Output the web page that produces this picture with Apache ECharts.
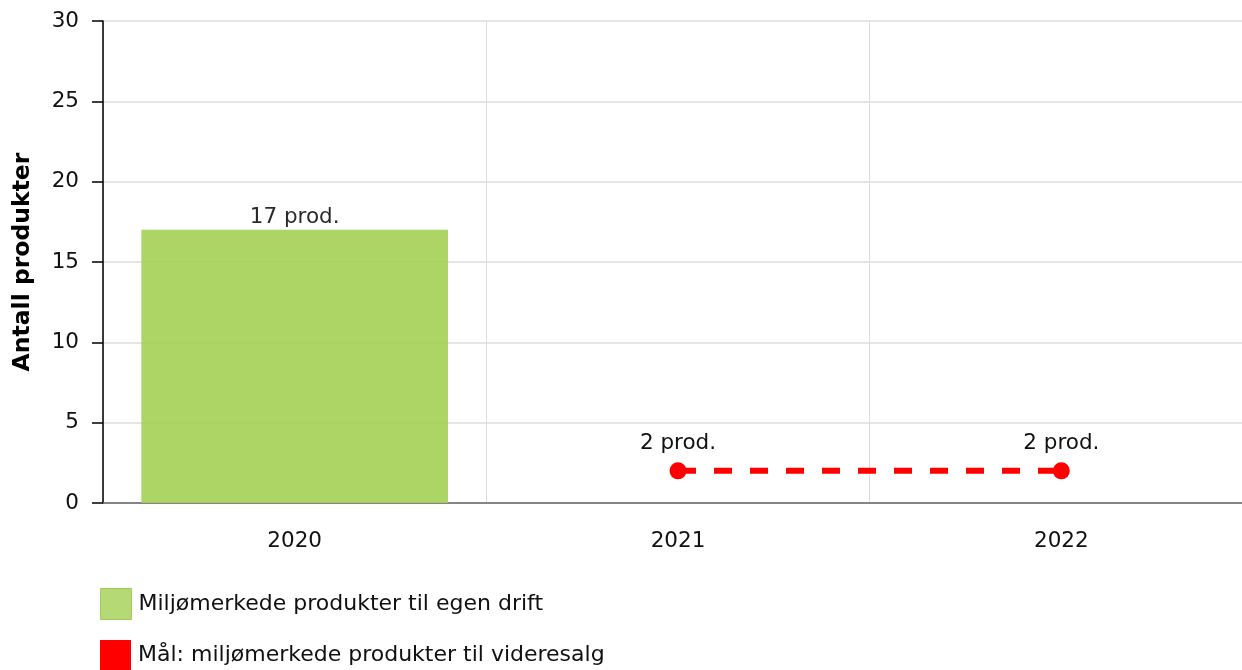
<!DOCTYPE html>
<html><head><meta charset="utf-8">
<script src="https://cdn.jsdelivr.net/npm/echarts@6/dist/echarts.min.js"></script>
<style>html,body{margin:0;padding:0;background:#fff}#c{width:1242px;height:670px}</style>
</head><body><div id="c"></div>
<script>
const categories = ['2020', '2021', '2022'];
const egenDrift = [17, null, null];
const videresalg = [null, 2, 2];
const yTicks = [0, 5, 10, 15, 20, 25, 30];
const seriesNames = ['Miljømerkede produkter til egen drift', 'Mål: miljømerkede produkter til videresalg'];

const chart = echarts.init(document.getElementById('c'), null, {renderer: 'canvas'});
const font = 'DejaVu Sans';
const fs = 21.5;
function legendFor(name, top, style) {
  return {
    orient: 'vertical', left: 100, top: top, padding: 0, itemWidth: 31, itemHeight: 31,
    icon: 'rect', selectedMode: false,
    textStyle: {fontFamily: font, fontSize: 22, color: '#111', padding: [0, 0, 0, 2]},
    data: [{name: name, itemStyle: style}]
  };
}
chart.setOption({
  animation: false,
  textStyle: {fontFamily: font},
  grid: {left: 103, top: 21, width: 1150, bottom: 167, containLabel: false, outerBoundsMode: 'none'},
  legend: [
    legendFor(seriesNames[0], 588, {color: '#add566', borderColor: '#9cc84e', borderWidth: 1}),
    legendFor(seriesNames[1], 640, {color: '#ff0000'})
  ],
  xAxis: {
    type: 'category', data: categories, boundaryGap: true,
    axisLine: {lineStyle: {color: '#666', width: 1.5}},
    axisTick: {alignWithLabel: true, length: 7, lineStyle: {color: '#999', width: 1.5}},
    axisLabel: {fontFamily: font, fontSize: fs, color: '#111', margin: 27},
    splitLine: {show: true, lineStyle: {color: '#dcdcdc', width: 1}}
  },
  yAxis: {
    type: 'value', min: yTicks[0], max: yTicks[yTicks.length - 1], interval: 5,
    name: 'Antall produkter', nameLocation: 'middle', nameGap: 68, nameRotate: 90,
    nameTextStyle: {fontFamily: font, fontSize: 23.5, fontWeight: 'bold', color: '#000'},
    axisLine: {show: true, lineStyle: {color: '#000', width: 1.5}},
    axisTick: {show: true, length: 11, lineStyle: {color: '#000', width: 1.5}},
    axisLabel: {fontFamily: font, fontSize: fs, color: '#111', margin: 24},
    splitLine: {show: true, lineStyle: {color: '#dcdcdc', width: 1.5}}
  },
  series: [
    {
      name: seriesNames[0], type: 'bar', data: egenDrift,
      barWidth: '80%',
      itemStyle: {color: '#a4d055', opacity: 0.9},
      label: {show: true, position: 'top', distance: 1, formatter: p => p.value + ' prod.', fontFamily: font, fontSize: fs, color: '#111'}
    },
    {
      name: seriesNames[1], type: 'line', data: videresalg,
      symbol: 'circle', symbolSize: 17, connectNulls: false,
      lineStyle: {color: '#ff0000', width: 6, type: [18, 18]},
      itemStyle: {color: '#ff0000'},
      label: {show: true, position: 'top', distance: 8, formatter: p => p.value + ' prod.', fontFamily: font, fontSize: fs, color: '#111'},
      z: 5
    }
  ]
});
</script></body></html>
